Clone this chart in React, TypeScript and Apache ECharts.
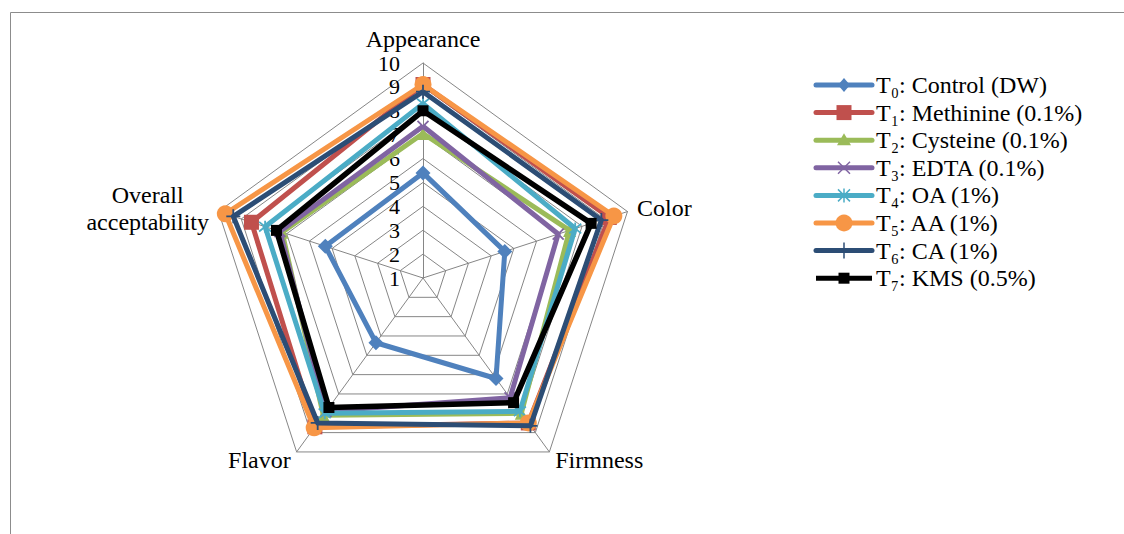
import React, { useEffect, useRef } from 'react';
import * as echarts from 'echarts';

// Sensory attributes, in reading order (clockwise from the top)
const attributes = ['Appearance', 'Color', 'Firmness', 'Flavor', 'Overall acceptability'];
const attributeLabels = ['Appearance', 'Color', 'Firmness', 'Flavor', 'Overall\nacceptability'];

// Treatments
const treatments = [
  'T₀: Control (DW)',
  'T₁: Methinine (0.1%)',
  'T₂: Cysteine (0.1%)',
  'T₃: EDTA (0.1%)',
  'T₄: OA (1%)',
  'T₅: AA (1%)',
  'T₆: CA (1%)',
  'T₇: KMS (0.5%)',
];

// Scores per treatment: Appearance, Color, Firmness, Flavor, Overall acceptability
const t0Control = [5.4, 4.6, 6.2, 4.35, 5.3];
const t1Methinine = [9.1, 9.2, 8.5, 8.7, 8.55];
const t2Cysteine = [7.05, 7.45, 8.0, 8.1, 7.2];
const t3Edta = [7.35, 6.95, 7.2, 7.9, 7.3];
const t4Oa = [8.3, 7.7, 7.9, 8.0, 7.95];
const t5Aa = [9.1, 9.4, 8.5, 8.75, 9.7];
const t6Ca = [8.8, 8.85, 8.65, 8.5, 9.35];
const t7Kms = [8.0, 8.4, 7.45, 7.7, 7.45];
const scores = [t0Control, t1Methinine, t2Cysteine, t3Edta, t4Oa, t5Aa, t6Ca, t7Kms];

// Score scale
const scaleMin = 1;
const scaleMax = 10;

const colors = ['#4F81BD', '#C0504D', '#9BBB59', '#8064A2', '#4BACC6', '#F79646', '#2C4D75', '#000000'];

const SYM_X = 'path://M0,0L10,10M10,0L0,10';
const SYM_STAR = 'path://M5,0L5,10M1,1L9,9M9,1L1,9';
const SYM_PLUS = 'path://M5,0L5,10M0,5L10,5';

const markers = [
  { symbol: 'diamond', size: 15, stroke: false },
  { symbol: 'rect', size: 15, stroke: false },
  { symbol: 'triangle', size: 13, stroke: false },
  { symbol: SYM_X, size: 11, stroke: true },
  { symbol: SYM_STAR, size: 12, stroke: true },
  { symbol: 'circle', size: 17, stroke: false },
  { symbol: SYM_PLUS, size: 14, stroke: true },
  { symbol: 'rect', size: 11, stroke: false },
];

const FONT = "'Liberation Serif', 'Times New Roman', serif";
const CX = 423;
const CY = 278;
const R = 215;

// ECharts places indicators counter-clockwise from the top
const displayOrder = [0, 4, 3, 2, 1];

function legendMarker(i: number, cx: number, cy: number, color: string): any[] {
  switch (i) {
    case 0:
      return [{ type: 'polygon', shape: { points: [[cx, cy - 7], [cx + 6, cy], [cx, cy + 7], [cx - 6, cy]] }, style: { fill: color } }];
    case 1:
      return [{ type: 'rect', shape: { x: cx - 7.5, y: cy - 7.5, width: 15, height: 15 }, style: { fill: color } }];
    case 2:
      return [{ type: 'polygon', shape: { points: [[cx, cy - 7], [cx + 7, cy + 5], [cx - 7, cy + 5]] }, style: { fill: color } }];
    case 3:
      return [
        { type: 'line', shape: { x1: cx - 6, y1: cy - 6, x2: cx + 6, y2: cy + 6 }, style: { stroke: color, lineWidth: 1.5 } },
        { type: 'line', shape: { x1: cx + 6, y1: cy - 6, x2: cx - 6, y2: cy + 6 }, style: { stroke: color, lineWidth: 1.5 } },
      ];
    case 4:
      return [
        { type: 'line', shape: { x1: cx, y1: cy - 7, x2: cx, y2: cy + 7 }, style: { stroke: color, lineWidth: 1.5 } },
        { type: 'line', shape: { x1: cx - 6, y1: cy - 6, x2: cx + 6, y2: cy + 6 }, style: { stroke: color, lineWidth: 1.5 } },
        { type: 'line', shape: { x1: cx + 6, y1: cy - 6, x2: cx - 6, y2: cy + 6 }, style: { stroke: color, lineWidth: 1.5 } },
      ];
    case 5:
      return [{ type: 'circle', shape: { cx, cy, r: 8.5 }, style: { fill: color } }];
    case 6:
      return [{ type: 'line', shape: { x1: cx, y1: cy - 8, x2: cx, y2: cy + 8 }, style: { stroke: color, lineWidth: 1.5 } }];
    default:
      return [{ type: 'rect', shape: { x: cx - 5.5, y: cy - 5.5, width: 11, height: 11 }, style: { fill: color } }];
  }
}

export default function App() {
  const ref = useRef<HTMLDivElement>(null);

  useEffect(() => {
    if (!ref.current) return;
    const chart = echarts.init(ref.current, undefined, { renderer: 'svg' });

    const indicator = displayOrder.map((k) => {
      const item: any = { name: attributeLabels[k], min: scaleMin, max: scaleMax };
      if (k === 0) {
        item.axisLabel = {
          show: true,
          color: '#000',
          fontFamily: FONT,
          fontSize: 22,
          margin: 23,
        };
      }
      return item;
    });

    const series = scores.map((vals, i) => ({
      type: 'radar',
      name: treatments[i],
      z: 2 + i,
      symbol: markers[i].symbol,
      symbolSize: markers[i].size,
      lineStyle: { color: colors[i], width: i === 7 ? 5.5 : 5, join: 'round' },
      itemStyle: {
        color: colors[i],
        borderColor: colors[i],
        borderWidth: markers[i].stroke ? 1.8 : 0,
      },
      data: [{ name: treatments[i], value: displayOrder.map((k) => vals[k]) }],
    }));

    const legendGraphics: any[] = [];
    treatments.forEach((name, i) => {
      const y = 85 + i * 27.6;
      legendGraphics.push({
        type: 'line',
        shape: { x1: 816, y1: y, x2: 872, y2: y },
        style: { stroke: colors[i], lineWidth: 5, lineCap: i === 7 ? 'butt' : 'round' },
      });
      legendGraphics.push(...legendMarker(i, 844, y, colors[i]));
      legendGraphics.push({
        type: 'text',
        x: 876,
        y,
        style: {
          text: name,
          fill: '#000',
          fontFamily: FONT,
          fontSize: 24,
          align: 'left',
          verticalAlign: 'middle',
        },
      });
    });

    chart.setOption({
      animation: false,
      backgroundColor: '#ffffff',
      textStyle: { fontFamily: FONT },
      radar: {
        center: [CX, CY],
        radius: R,
        startAngle: 90,
        shape: 'polygon',
        splitNumber: scaleMax - scaleMin,
        indicator,
        nameGap: 10,
        axisName: {
          color: '#000',
          fontFamily: FONT,
          fontSize: 24,
          lineHeight: 27,
          formatter: (n: string) =>
            n.includes('\n') ? n.split('\n').map((s) => `{c|${s}}`).join('\n') : n,
          rich: { c: { align: 'center', fontFamily: FONT, fontSize: 24, color: '#000', lineHeight: 27 } },
        },
        axisLine: { lineStyle: { color: '#868686', width: 1 } },
        splitLine: { lineStyle: { color: '#868686', width: 1 } },
        splitArea: { show: false },
        axisTick: { show: false },
        axisLabel: { show: false },
      },
      graphic: [
        {
          type: 'rect',
          shape: { x: 10.5, y: 12.5, width: 1300, height: 700 },
          style: { fill: 'none', stroke: '#8c8c8c', lineWidth: 1 },
          silent: true,
          z: -1,
        },
        ...legendGraphics,
      ],
      series,
    });

    return () => chart.dispose();
  }, []);

  return (
    <div
      ref={ref}
      style={{ position: 'fixed', left: 0, top: 0, width: 1124, height: 534, background: '#fff' }}
    />
  );
}
